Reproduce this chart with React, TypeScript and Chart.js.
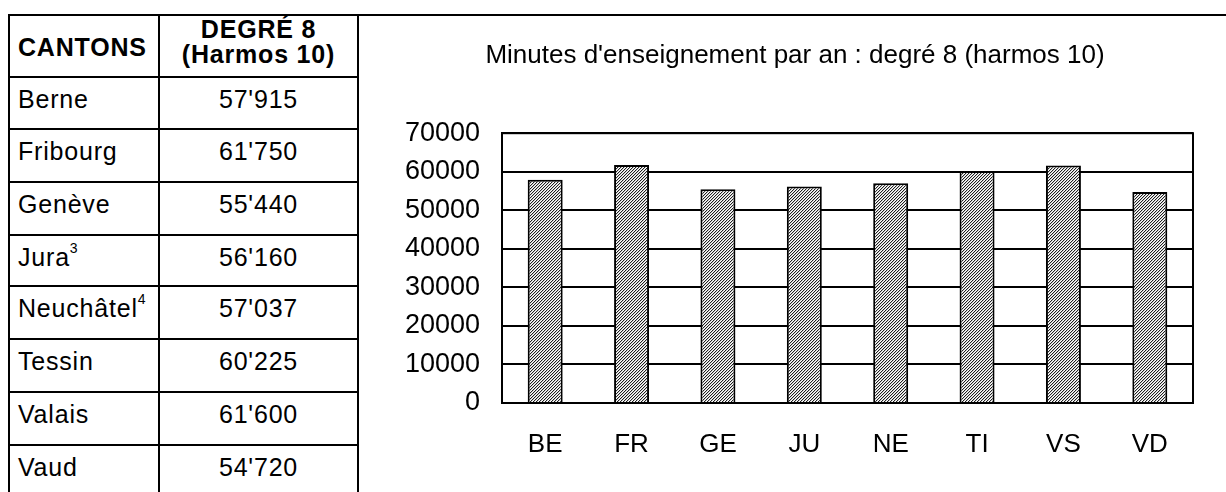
import React, { useEffect, useRef } from "react";
import { Chart, registerables } from "chart.js";

Chart.register(...registerables);

// ---- data ----
const cantons = ["Berne", "Fribourg", "Genève", "Jura", "Neuchâtel", "Tessin", "Valais", "Vaud"];
const cantonNotes = ["", "", "", "3", "4", "", "", ""];
const tableValues = ["57'915", "61'750", "55'440", "56'160", "57'037", "60'225", "61'600", "54'720"];
const codes = ["BE", "FR", "GE", "JU", "NE", "TI", "VS", "VD"];
const minutes = [57915, 61750, 55440, 56160, 57037, 60225, 61600, 54720];
const yMin = 0;
const yMax = 70000;
const yStep = 10000;
const chartTitle = "Minutes d'enseignement par an : degré 8 (harmos 10)";
const headerCol1 = "CANTONS";
const headerCol2a = "DEGRÉ 8";
const headerCol2b = "(Harmos 10)";

const FONT = "'Liberation Sans', Arial, sans-serif";

function makeHatch(): CanvasPattern | string {
  const c = document.createElement("canvas");
  c.width = 3;
  c.height = 3;
  const ctx = c.getContext("2d");
  if (!ctx) return "#999";
  for (let y = 0; y < 3; y++) {
    for (let x = 0; x < 3; x++) {
      const k = (x + y) % 3;
      ctx.fillStyle = k === 0 ? "#202020" : k === 1 ? "#c8c8c8" : "#ffffff";
      ctx.fillRect(x, y, 1, 1);
    }
  }
  return ctx.createPattern(c, "repeat") || "#999";
}

const framePlugin = {
  id: "frame",
  beforeDatasetsDraw(chart: any) {
    const { ctx, chartArea } = chart;
    ctx.save();
    ctx.strokeStyle = "#000";
    ctx.lineWidth = 2;
    ctx.strokeRect(chartArea.left, chartArea.top, chartArea.right - chartArea.left, chartArea.bottom - chartArea.top);
    ctx.restore();
  },
};

function BarChart() {
  const ref = useRef<HTMLCanvasElement | null>(null);
  useEffect(() => {
    if (!ref.current) return;
    const chart = new Chart(ref.current, {
      type: "bar",
      data: {
        labels: codes,
        datasets: [
          {
            data: minutes,
            backgroundColor: makeHatch() as any,
            borderColor: "#000",
            borderWidth: 2,
            barPercentage: 0.405,
            categoryPercentage: 1,
          },
        ],
      },
      options: {
        animation: false,
        responsive: false,
        maintainAspectRatio: false,
        layout: { padding: { left: 37, right: 33, top: 0, bottom: 0 } },
        plugins: {
          legend: { display: false },
          tooltip: { enabled: false },
          title: {
            display: true,
            text: chartTitle,
            color: "#000",
            font: { family: FONT, size: 26, weight: "normal" as any, lineHeight: 1.2 },
            padding: { top: 24, bottom: 62 },
          },
        },
        scales: {
          x: {
            grid: { display: false },
            border: { display: false },
            ticks: {
              color: "#000",
              font: { family: FONT, size: 26, lineHeight: 1.2 },
              padding: 18,
              maxRotation: 0,
              autoSkip: false,
            },
            afterFit(scale: any) {
              scale.height = 89;
            },
          },
          y: {
            min: yMin,
            max: yMax,
            grid: { color: "#000", lineWidth: 2, drawTicks: false },
            border: { display: true, color: "#000", width: 2 },
            ticks: {
              stepSize: yStep,
              color: "#000",
              font: { family: FONT, size: 27, lineHeight: 1.2 },
              padding: 22,
              callback: (v: any) => String(v),
            },
            afterFit(scale: any) {
              scale.width = 105;
            },
          },
        },
      },
      plugins: [framePlugin],
    });
    return () => chart.destroy();
  }, []);
  return (
    <canvas
      ref={ref}
      width={866}
      height={476}
      style={{ position: "absolute", left: 360, top: 16, width: 866, height: 476 }}
    />
  );
}

export default function App() {
  const hLines = [14, 76, 128, 181, 234, 285, 338, 391, 444];
  const vLines = [8, 158, 357];
  const textStyle: React.CSSProperties = {
    position: "absolute",
    fontFamily: FONT,
    fontSize: 25,
    lineHeight: "24px",
    letterSpacing: 0.8,
    color: "#000",
    whiteSpace: "nowrap",
  };
  return (
    <div
      style={{
        position: "absolute",
        left: 0,
        top: 0,
        width: 1226,
        height: 492,
        overflow: "hidden",
        background: "#fff",
      }}
    >
      {/* top line across the full width */}
      <div style={{ position: "absolute", left: 8, top: 14, width: 1218, height: 2, background: "#000" }} />
      {/* row lines of the table */}
      {hLines.slice(1).map((y, i) => (
        <div key={"h" + i} style={{ position: "absolute", left: 8, top: y, width: 351, height: 2, background: "#000" }} />
      ))}
      {vLines.map((x, i) => (
        <div key={"v" + i} style={{ position: "absolute", left: x, top: 14, width: 2, height: 478, background: "#000" }} />
      ))}
      {/* header */}
      <div style={{ ...textStyle, fontWeight: "bold", left: 18, top: 35 }}>{headerCol1}</div>
      <div style={{ ...textStyle, fontWeight: "bold", left: 160, width: 197, textAlign: "center", top: 17 }}>{headerCol2a}</div>
      <div style={{ ...textStyle, fontWeight: "bold", left: 160, width: 197, textAlign: "center", top: 42 }}>{headerCol2b}</div>
      {/* rows */}
      {cantons.map((name, i) => (
        <React.Fragment key={name}>
          <div style={{ ...textStyle, left: 18, top: hLines[i + 1] + 11 }}>
            {name}
            {cantonNotes[i] ? (
              <span style={{ fontSize: 14, position: "relative", top: -13, letterSpacing: 0 }}>{cantonNotes[i]}</span>
            ) : null}
          </div>
          <div style={{ ...textStyle, left: 160, width: 197, textAlign: "center", top: hLines[i + 1] + 11 }}>
            {tableValues[i]}
          </div>
        </React.Fragment>
      ))}
      <BarChart />
    </div>
  );
}
